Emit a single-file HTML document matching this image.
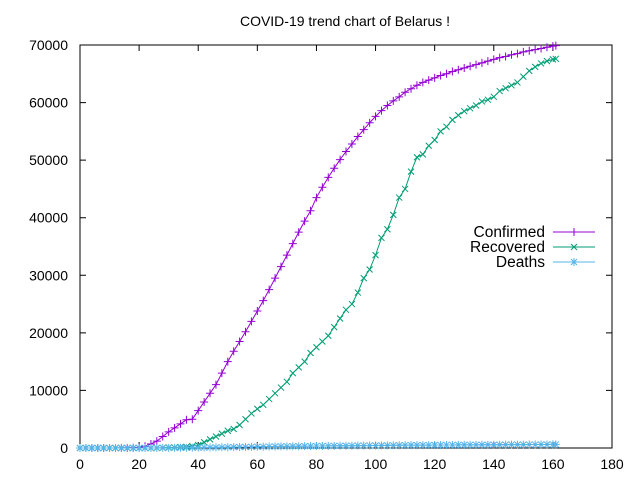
<!DOCTYPE html>
<html><head><meta charset="utf-8"><style>
body{margin:0;background:#fff}
svg{display:block;font-family:"Liberation Sans",sans-serif}
</style></head><body>
<svg id="chart" width="640" height="480">
<rect width="640" height="480" fill="#fff"/>
<text x="345" y="26" text-anchor="middle" font-size="14">COVID-19 trend chart of Belarus !</text>
<rect x="80" y="45" width="532" height="403" fill="none" stroke="#000" stroke-width="1"/>
<g id="axes"></g>
<g id="series"></g>
<g id="legend"></g>
</svg>
<script>
const days = [0,2,4,6,8,10,12,14,16,18,20,22,24,26,28,30,32,34,36,38,40,42,44,46,48,50,52,54,56,58,60,62,64,66,68,70,72,74,76,78,80,82,84,86,88,90,92,94,96,98,100,102,104,106,108,110,112,114,116,118,120,122,124,126,128,130,132,134,136,138,140,142,144,146,148,150,152,154,156,158,160,161];
const confirmed = [0,0,0,0,0,0,10,20,30,50,80,300,700,1200,2000,2800,3500,4200,4900,5000,6500,8000,9500,11000,13000,15000,16800,18500,20200,22000,23800,25600,27500,29500,31500,33500,35500,37500,39400,41200,43500,45300,47000,48600,50100,51500,52800,54100,55300,56500,57600,58600,59500,60300,61000,61800,62400,63000,63500,63900,64300,64700,65000,65400,65700,66000,66300,66600,66900,67200,67500,67800,68000,68300,68500,68800,69000,69200,69400,69600,69800,69900];
const recovered = [0,0,0,0,0,0,0,0,0,0,0,0,0,0,50,80,100,150,200,300,500,1000,1500,2000,2500,3000,3300,4000,5000,6000,6800,7500,8500,9500,10500,11500,13000,14000,15000,16500,17500,18500,19500,21000,22500,24000,25000,27000,29500,31000,33500,36500,38000,40500,43500,45000,48000,50500,51000,52500,53500,55000,55800,57000,57800,58500,59000,59500,60200,60500,61000,62000,62500,63000,63500,64500,65500,66200,66800,67200,67500,67600];
const deaths = [0,0,0,0,0,0,0,0,0,0,0,2,5,10,15,20,30,40,50,60,70,80,100,110,120,140,150,170,180,200,220,230,250,260,280,290,300,310,320,330,340,350,360,370,380,390,400,410,420,430,440,450,460,470,480,490,500,500,510,510,520,520,530,530,540,540,550,550,560,560,570,570,580,580,590,590,600,600,610,610,620,620];
const xTicks = [0,20,40,60,80,100,120,140,160,180];
const yTicks = [0,10000,20000,30000,40000,50000,60000,70000];
const seriesNames = ["Confirmed","Recovered","Deaths"];
const colors = ["#9400d3","#009e73","#56b4e9"];

const NS="http://www.w3.org/2000/svg";
const X=v=>80+v/180*532, Y=v=>448-v/70000*403;
function mk(tag,attrs,parent){const e=document.createElementNS(NS,tag);for(const k in attrs)e.setAttribute(k,attrs[k]);parent.appendChild(e);return e;}
const axes=document.getElementById('axes');
xTicks.forEach(t=>{
  const l=mk('path',{d:`M${X(t)},448v-6M${X(t)},45v6`,stroke:'#000'},axes);
  
  
  const tx=mk('text',{x:X(t),y:469,'text-anchor':'middle','font-size':14},axes);tx.textContent=t;
  
  
});
yTicks.forEach(t=>{
  const l=mk('path',{d:`M80,${Y(t)}h6M612,${Y(t)}h-6`,stroke:'#000'},axes);
  
  
  const tx=mk('text',{x:68,y:Y(t)+5,'text-anchor':'end','font-size':14},axes);tx.textContent=t;
  
  
});
function marker(kind,x,y,c,p){
  let d;
  if(kind===0) d=`M${x-4},${y}h8M${x},${y-4}v8`;
  else if(kind===1) d=`M${x-3},${y-3}l6,6M${x-3},${y+3}l6,-6`;
  else d=`M${x-4},${y}h8M${x},${y-4}v8M${x-3},${y-3}l6,6M${x-3},${y+3}l6,-6`;
  return mk('path',{d,stroke:c,'stroke-width':1,fill:'none'},p);
}
const sg=document.getElementById('series');
[confirmed,recovered,deaths].forEach((vals,i)=>{
  const g=mk('g',{},sg);
  
  
  const pl=mk('polyline',{points:days.map((d,j)=>X(d)+','+Y(vals[j])).join(' '),fill:'none',stroke:colors[i],'stroke-width':1},g);
  
  
  days.forEach((d,j)=>{
    const m=marker(i,X(d),Y(vals[j]),colors[i],g);
    
    
  });
});
const lg=document.getElementById('legend');
seriesNames.forEach((n,i)=>{
  const y=232+i*15;
  const t=mk('text',{x:545,y:y+5,'text-anchor':'end','font-size':15.5},lg);t.textContent=n;
  
  
  const l=mk('path',{d:`M553,${y}h42`,stroke:colors[i]},lg);
  
  
  const m=marker(i,574,y,colors[i],lg);
  
  
});
</script>
</body></html>
